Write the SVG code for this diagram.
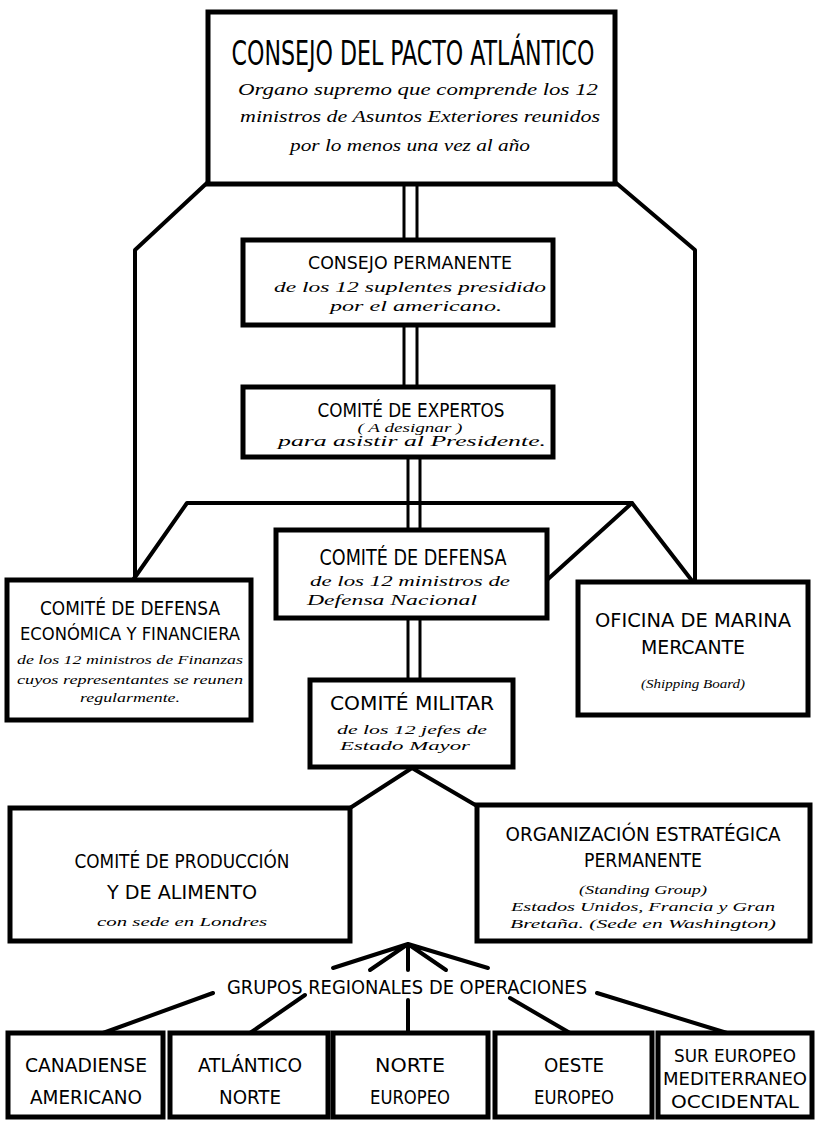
<svg xmlns="http://www.w3.org/2000/svg" width="815" height="1125" viewBox="0 0 815 1125">
<style>
.box{fill:#fff;stroke:#000;stroke-width:5}
.ln{fill:none;stroke:#000;stroke-width:4;stroke-linecap:round;stroke-linejoin:round}
.dl{fill:none;stroke:#000;stroke-width:3}
.t{font-family:"DejaVu Sans Condensed","Liberation Sans",sans-serif;fill:#000;text-anchor:middle}
.h{font-family:"Liberation Serif","DejaVu Serif",serif;font-style:italic;fill:#000;text-anchor:middle}
</style>
<rect width="815" height="1125" fill="#fff"/>
<g id="connectors">
<path class="ln" d="M208,182 L135,250 L135,580"/>
<path class="ln" d="M615,182 L695,250 L695,582"/>
<path class="ln" d="M133,580 L187,503 L632,503 L693,582"/>
<path class="ln" d="M547,580 L632,503"/>
<path class="dl" d="M404,185 V240 M417,185 V240 M404,325 V387 M417,325 V387 M408,457 V530 M420,457 V530 M408,618 V680 M420,618 V680"/>
<path class="ln" d="M350,808 L412,768 L477,806"/>
<path class="ln" d="M408,944 L333,968 M408,944 L370,970 M408,944 L408,970 M408,944 L446,970 M408,944 L488,968"/>
<path class="ln" d="M213,993 L103,1033 M305,995 L250,1033 M408,1000 L408,1033 M510,998 L570,1033 M597,993 L727,1033"/>
</g>
<g id="consejo-pacto">
<rect class="box" x="208" y="12" width="407" height="172"/>
<text class="t" x="413" y="65" font-size="34" textLength="363" lengthAdjust="spacingAndGlyphs">CONSEJO DEL PACTO ATLÁNTICO</text>
<text class="h" x="418" y="95" font-size="17" textLength="360" lengthAdjust="spacingAndGlyphs">Organo supremo que comprende los 12</text>
<text class="h" x="420" y="122" font-size="17" textLength="360" lengthAdjust="spacingAndGlyphs">ministros de Asuntos Exteriores reunidos</text>
<text class="h" x="410" y="151" font-size="17" textLength="240" lengthAdjust="spacingAndGlyphs">por lo menos una vez al año</text>
</g>
<g id="consejo-permanente">
<rect class="box" x="243" y="240" width="310" height="85"/>
<text class="t" x="410" y="269" font-size="17" textLength="204" lengthAdjust="spacingAndGlyphs">CONSEJO PERMANENTE</text>
<text class="h" x="410" y="292" font-size="14" textLength="272" lengthAdjust="spacingAndGlyphs">de los 12 suplentes presidido</text>
<text class="h" x="416" y="311" font-size="14" textLength="172" lengthAdjust="spacingAndGlyphs">por el americano.</text>
</g>
<g id="comite-expertos">
<rect class="box" x="243" y="387" width="310" height="70"/>
<text class="t" x="411" y="417" font-size="19" textLength="187" lengthAdjust="spacingAndGlyphs">COMITÉ DE EXPERTOS</text>
<text class="h" x="410" y="432" font-size="13" textLength="105" lengthAdjust="spacingAndGlyphs">( A designar )</text>
<text class="h" x="412" y="446" font-size="14" textLength="268" lengthAdjust="spacingAndGlyphs">para asistir al Presidente.</text>
</g>
<g id="comite-defensa">
<rect class="box" x="276" y="530" width="271" height="88"/>
<text class="t" x="413" y="565" font-size="21" textLength="187" lengthAdjust="spacingAndGlyphs">COMITÉ DE DEFENSA</text>
<text class="h" x="410" y="586" font-size="14" textLength="200" lengthAdjust="spacingAndGlyphs">de los 12 ministros de</text>
<text class="h" x="392" y="605" font-size="14" textLength="170" lengthAdjust="spacingAndGlyphs">Defensa Nacional</text>
</g>
<g id="comite-defensa-economica">
<rect class="box" x="7" y="580" width="244" height="140"/>
<text class="t" x="130" y="615" font-size="20" textLength="180" lengthAdjust="spacingAndGlyphs">COMITÉ DE DEFENSA</text>
<text class="t" x="130" y="640" font-size="18" textLength="220" lengthAdjust="spacingAndGlyphs">ECONÓMICA Y FINANCIERA</text>
<text class="h" x="130" y="664" font-size="12" textLength="226" lengthAdjust="spacingAndGlyphs">de los 12 ministros de Finanzas</text>
<text class="h" x="130" y="684" font-size="12" textLength="226" lengthAdjust="spacingAndGlyphs">cuyos representantes se reunen</text>
<text class="h" x="130" y="702" font-size="12" textLength="100" lengthAdjust="spacingAndGlyphs">regularmente.</text>
</g>
<g id="oficina-marina">
<rect class="box" x="578" y="582" width="230" height="133"/>
<text class="t" x="693" y="627" font-size="20" textLength="196" lengthAdjust="spacingAndGlyphs">OFICINA DE MARINA</text>
<text class="t" x="693" y="654" font-size="20" textLength="104" lengthAdjust="spacingAndGlyphs">MERCANTE</text>
<text class="h" x="693" y="688" font-size="12" textLength="104" lengthAdjust="spacingAndGlyphs">(Shipping Board)</text>
</g>
<g id="comite-militar">
<rect class="box" x="310" y="680" width="203" height="87"/>
<text class="t" x="412" y="710" font-size="19" textLength="164" lengthAdjust="spacingAndGlyphs">COMITÉ MILITAR</text>
<text class="h" x="412" y="734" font-size="12" textLength="150" lengthAdjust="spacingAndGlyphs">de los 12 jefes de</text>
<text class="h" x="405" y="750" font-size="12" textLength="130" lengthAdjust="spacingAndGlyphs">Estado Mayor</text>
</g>
<g id="comite-produccion">
<rect class="box" x="10" y="808" width="340" height="133"/>
<text class="t" x="182" y="868" font-size="20" textLength="215" lengthAdjust="spacingAndGlyphs">COMITÉ DE PRODUCCIÓN</text>
<text class="t" x="182" y="899" font-size="20" textLength="150" lengthAdjust="spacingAndGlyphs">Y DE ALIMENTO</text>
<text class="h" x="182" y="926" font-size="13" textLength="170" lengthAdjust="spacingAndGlyphs">con sede en Londres</text>
</g>
<g id="organizacion-estrategica">
<rect class="box" x="477" y="805" width="333" height="136"/>
<text class="t" x="643" y="841" font-size="20" textLength="275" lengthAdjust="spacingAndGlyphs">ORGANIZACIÓN ESTRATÉGICA</text>
<text class="t" x="643" y="867" font-size="20" textLength="118" lengthAdjust="spacingAndGlyphs">PERMANENTE</text>
<text class="h" x="643" y="894" font-size="13" textLength="128" lengthAdjust="spacingAndGlyphs">(Standing Group)</text>
<text class="h" x="643" y="911" font-size="13" textLength="264" lengthAdjust="spacingAndGlyphs">Estados Unidos, Francia y Gran</text>
<text class="h" x="643" y="928" font-size="13" textLength="266" lengthAdjust="spacingAndGlyphs">Bretaña. (Sede en Washington)</text>
</g>
<g id="grupos-regionales">
<text class="t" x="407" y="994" font-size="19" textLength="360" lengthAdjust="spacingAndGlyphs">GRUPOS REGIONALES DE OPERACIONES</text>
</g>
<g id="canadiense-americano">
<rect class="box" x="8" y="1033" width="155" height="84"/>
<text class="t" x="86" y="1072" font-size="19" textLength="122" lengthAdjust="spacingAndGlyphs">CANADIENSE</text>
<text class="t" x="86" y="1104" font-size="19" textLength="112" lengthAdjust="spacingAndGlyphs">AMERICANO</text>
</g>
<g id="atlantico-norte">
<rect class="box" x="170" y="1033" width="158" height="84"/>
<text class="t" x="250" y="1072" font-size="19" textLength="104" lengthAdjust="spacingAndGlyphs">ATLÁNTICO</text>
<text class="t" x="250" y="1104" font-size="19" textLength="62" lengthAdjust="spacingAndGlyphs">NORTE</text>
</g>
<g id="norte-europeo">
<rect class="box" x="333" y="1033" width="155" height="84"/>
<text class="t" x="410" y="1072" font-size="19" textLength="70" lengthAdjust="spacingAndGlyphs">NORTE</text>
<text class="t" x="410" y="1104" font-size="19" textLength="80" lengthAdjust="spacingAndGlyphs">EUROPEO</text>
</g>
<g id="oeste-europeo">
<rect class="box" x="495" y="1033" width="157" height="84"/>
<text class="t" x="574" y="1072" font-size="19" textLength="60" lengthAdjust="spacingAndGlyphs">OESTE</text>
<text class="t" x="574" y="1104" font-size="19" textLength="80" lengthAdjust="spacingAndGlyphs">EUROPEO</text>
</g>
<g id="sur-europeo">
<rect class="box" x="658" y="1033" width="154" height="84"/>
<text class="t" x="735" y="1062" font-size="18" textLength="122" lengthAdjust="spacingAndGlyphs">SUR EUROPEO</text>
<text class="t" x="735" y="1085" font-size="18" textLength="144" lengthAdjust="spacingAndGlyphs">MEDITERRANEO</text>
<text class="t" x="735" y="1108" font-size="18" textLength="128" lengthAdjust="spacingAndGlyphs">OCCIDENTAL</text>
</g>
</svg>
